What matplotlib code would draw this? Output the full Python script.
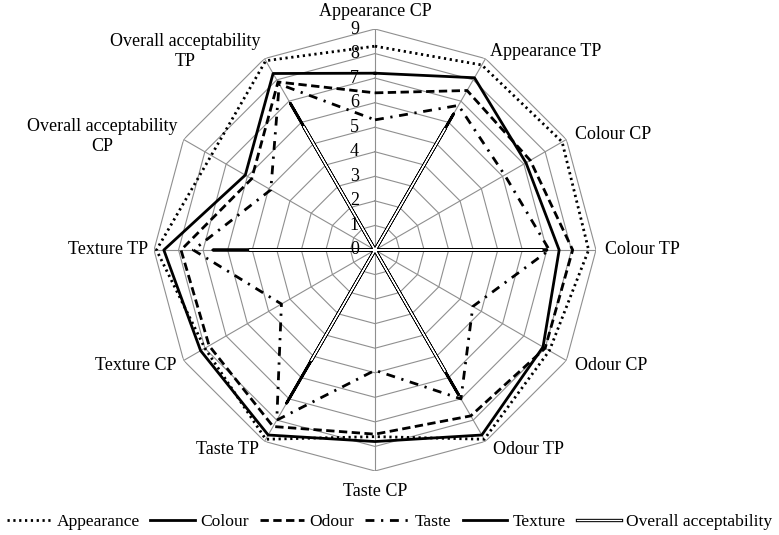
import numpy as np
import matplotlib
matplotlib.use("Agg")
import matplotlib.pyplot as plt
from matplotlib.lines import Line2D
from matplotlib.legend_handler import HandlerTuple

plt.rcParams['font.family'] = ['Liberation Serif', 'DejaVu Serif']

categories = ["Appearance CP", "Appearance TP", "Colour CP", "Colour TP",
              "Odour CP", "Odour TP", "Taste CP", "Taste TP",
              "Texture CP", "Texture TP", "Overall acceptability\nCP",
              "Overall acceptability\nTP"]

appearance = [8.3, 8.7, 8.8, 8.7, 8.2, 8.9, 7.6, 8.9, 8.0, 8.9, 7.7, 8.9]
colour     = [7.2, 8.1, 7.1, 7.5, 7.9, 8.7, 7.8, 8.7, 8.2, 8.6, 6.1, 8.3]
odour      = [6.4, 7.5, 7.3, 8.05, 8.0, 7.8, 7.5, 8.3, 7.8, 7.9, 5.8, 7.9]
taste      = [5.3, 6.8, 6.1, 7.1, 4.6, 7.0, 4.9, 8.0, 4.4, 7.4, 4.9, 7.8]
texture    = [0, 6.4, 0, 7.0, 0, 6.8, 0, 7.2, 0, 6.6, 0, 6.9]
overall    = [0, 5.7, 0, 6.8, 0, 5.7, 0, 5.2, 0, 5.1, 0, 5.8]
ticks = [0, 1, 2, 3, 4, 5, 6, 7, 8, 9]

W, H = 779, 535
fig = plt.figure(figsize=(W / 100, H / 100), dpi=100)
ax = fig.add_axes([154 / W, (H - 471) / H, 442 / W, 442 / H], projection='polar')
ax.set_theta_offset(np.pi / 2)
ax.set_theta_direction(-1)
ax.set_ylim(0, 9)
ax.grid(False)
ax.spines['polar'].set_visible(False)
ax.set_xticks([])
ax.set_yticks([])
ax.patch.set_visible(False)

n = len(categories)
ang = np.linspace(0, 2 * np.pi, n, endpoint=False)
ang_c = np.concatenate([ang, ang[:1]])

gcol = '#8f8f8f'
for k in ticks[1:]:
    ax.plot(ang_c, [k] * (n + 1), color=gcol, lw=0.8, zorder=1)
for a in ang:
    ax.plot([a, a], [0, 9], color=gcol, lw=0.8, zorder=1)

def closed(v):
    return np.concatenate([v, v[:1]])

lw = 2.0
dot_ls = (0, (0.8, 1.3))
dash_ls = (0, (3, 1.6))
dashdot_ls = (0, (3.2, 2.4, 0.8, 2.4))
ax.plot(ang_c, closed(appearance), color='black', lw=lw,
        linestyle=dot_ls, dash_capstyle='butt', zorder=3)
ax.plot(ang_c, closed(colour), color='black', lw=lw, zorder=4)
ax.plot(ang_c, closed(odour), color='black', lw=lw,
        linestyle=dash_ls, zorder=5)
ax.plot(ang_c, closed(taste), color='black', lw=lw,
        linestyle=dashdot_ls, zorder=6)
ax.plot(ang_c, closed(texture), color='black', lw=lw, zorder=7)
ax.plot(ang_c, closed(overall), color='black', lw=2.4, zorder=8)
ax.plot(ang_c, closed(overall), color='white', lw=0.9, zorder=9)

fs = 13
for k in ticks:
    ax.annotate(str(k), xy=(0, k), xytext=(-16, 0), textcoords='offset pixels',
                ha='right', va='center', fontsize=fs, zorder=10)

label_pos = [
    ('center', 'center', 0, 18),
    ('left', 'center', 5, 7),
    ('left', 'center', 9, 5),
    ('left', 'center', 9, 0),
    ('left', 'center', 9, -5),
    ('left', 'center', 7, -8),
    ('center', 'center', 0, -21),
    ('right', 'center', -6, -8),
    ('right', 'center', -7, -5),
    ('right', 'center', -6, 0),
    ('right', 'center', -6, 3),
    ('right', 'center', -4, 7),
]
for a, lab, (ha, va, dx, dy) in zip(ang, categories, label_pos):
    ax.annotate(lab, xy=(a, 9), xytext=(dx, dy), textcoords='offset pixels',
                ha=ha, va=va, fontsize=fs, multialignment='center',
                annotation_clip=False)

h_app = Line2D([], [], color='black', lw=lw, linestyle=dot_ls, dash_capstyle='butt')
h_col = Line2D([], [], color='black', lw=lw)
h_odo = Line2D([], [], color='black', lw=lw, linestyle=dash_ls)
h_tas = Line2D([], [], color='black', lw=lw, linestyle=dashdot_ls)
h_tex = Line2D([], [], color='black', lw=lw)
h_ov1 = Line2D([], [], color='black', lw=2.4)
h_ov2 = Line2D([], [], color='white', lw=0.9)
fig.legend([h_app, h_col, h_odo, h_tas, h_tex, (h_ov1, h_ov2)],
           ["Appearance", "Colour", "Odour", "Taste", "Texture", "Overall acceptability"],
           handler_map={tuple: HandlerTuple(ndivide=1)},
           loc='center', bbox_to_anchor=(0.5, 1 - 522 / H), ncol=6, frameon=False,
           fontsize=12.6, handlelength=2.55, handletextpad=0.3, columnspacing=0.62,
           borderpad=0, borderaxespad=0)

fig.savefig('out.png', dpi=100)
